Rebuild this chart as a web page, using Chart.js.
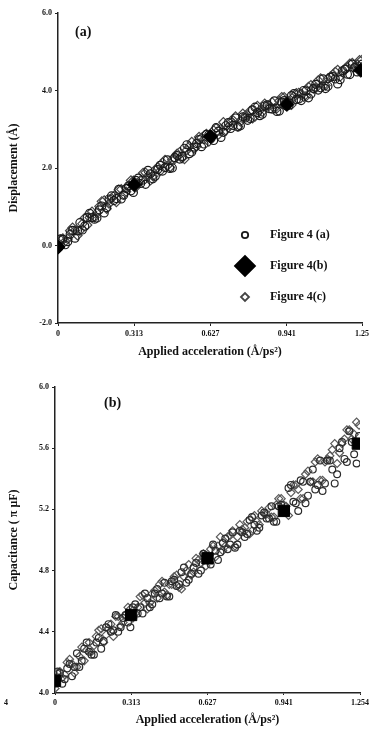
<!DOCTYPE html>
<html>
<head>
<meta charset="utf-8">
<script src="https://cdn.jsdelivr.net/npm/chart.js@4.4.1/dist/chart.umd.min.js"></script>
<style>
  html, body { margin: 0; padding: 0; background: #fff; }
  #wrapA { position: absolute; left: 0; top: 0; width: 370px; height: 365px; }
  #wrapB { position: absolute; left: 0; top: 365px; width: 370px; height: 366px; }
</style>
</head>
<body>
<div id="wrapA"><canvas id="chartA"></canvas></div>
<div id="wrapB"><canvas id="chartB"></canvas></div>
<script>
// sample positions (applied acceleration, Å/ps²)
const accEven = [0.00, 0.02, 0.04, 0.06, 0.08, 0.10, 0.12, 0.14, 0.16, 0.18, 0.20, 0.22, 0.24, 0.26, 0.28, 0.30,
  0.32, 0.34, 0.36, 0.38, 0.40, 0.42, 0.44, 0.46, 0.48, 0.50, 0.52, 0.54, 0.56, 0.58, 0.60, 0.62,
  0.64, 0.66, 0.68, 0.70, 0.72, 0.74, 0.76, 0.78, 0.80, 0.82, 0.84, 0.86, 0.88, 0.90, 0.92, 0.94,
  0.96, 0.98, 1.00, 1.02, 1.04, 1.06, 1.08, 1.10, 1.12, 1.14, 1.16, 1.18, 1.20, 1.22, 1.24];
const accOdd = [0.01, 0.03, 0.05, 0.07, 0.09, 0.11, 0.13, 0.15, 0.17, 0.19, 0.21, 0.23, 0.25, 0.27, 0.29, 0.31,
  0.33, 0.35, 0.37, 0.39, 0.41, 0.43, 0.45, 0.47, 0.49, 0.51, 0.53, 0.55, 0.57, 0.59, 0.61, 0.63,
  0.65, 0.67, 0.69, 0.71, 0.73, 0.75, 0.77, 0.79, 0.81, 0.83, 0.85, 0.87, 0.89, 0.91, 0.93, 0.95,
  0.97, 0.99, 1.01, 1.03, 1.05, 1.07, 1.09, 1.11, 1.13, 1.15, 1.17, 1.19, 1.21, 1.23, 1.25];

// panel (a): displacement, Å
const dispA = [-0.04, 0.16, 0.10, 0.39, 0.38, 0.40, 0.72, 0.72, 0.71, 1.02, 0.98, 1.28, 1.21, 1.20, 1.47, 1.41,
  1.68, 1.60, 1.58, 1.85, 1.79, 2.07, 2.01, 1.99, 2.27, 2.23, 2.51, 2.37, 2.54, 2.73, 2.62, 2.85,
  2.71, 2.95, 2.92, 3.17, 3.10, 3.06, 3.32, 3.23, 3.50, 3.43, 3.39, 3.63, 3.52, 3.46, 3.70, 3.60,
  3.87, 3.77, 3.74, 3.99, 3.91, 4.16, 4.07, 4.05, 4.34, 4.30, 4.28, 4.55, 4.41, 4.59, 4.56];
const dispA2 = [0.17, 0.02, 0.29, 0.19, 0.59, 0.50, 0.83, 0.68, 0.92, 0.84, 1.20, 1.16, 1.45, 1.30, 1.54, 1.37,
  1.74, 1.69, 1.94, 1.72, 1.96, 1.92, 2.21, 2.00, 2.32, 2.30, 2.60, 2.41, 2.63, 2.55, 2.87, 2.77,
  3.04, 2.79, 3.09, 3.02, 3.29, 3.09, 3.29, 3.28, 3.57, 3.35, 3.60, 3.53, 3.73, 3.47, 3.74, 3.62,
  3.92, 3.78, 4.00, 3.81, 4.05, 4.01, 4.30, 4.11, 4.36, 4.17, 4.51, 4.42, 4.68, 4.48, 4.68];
const dispC = [0.15, 0.11, 0.38, 0.39, 0.38, 0.71, 0.72, 0.73, 1.01, 1.16, 1.08, 1.28, 1.44, 1.32, 1.53, 1.67,
  1.59, 1.87, 1.79, 1.79, 2.01, 2.14, 2.06, 2.22, 2.37, 2.25, 2.46, 2.67, 2.56, 2.78, 2.88, 2.82,
  3.03, 3.01, 2.97, 3.21, 3.33, 3.20, 3.35, 3.47, 3.33, 3.49, 3.66, 3.61, 3.54, 3.73, 3.83, 3.70,
  3.84, 3.94, 3.84, 4.09, 4.05, 4.26, 4.12, 4.31, 4.41, 4.53, 4.47, 4.60, 4.71, 4.67, 4.79];
const dispC2 = [-0.10, 0.18, 0.17, 0.46, 0.26, 0.56, 0.53, 0.87, 0.84, 1.14, 0.95, 1.22, 1.12, 1.45, 1.39, 1.68,
  1.51, 1.69, 1.88, 1.68, 1.96, 1.92, 2.21, 2.02, 2.23, 2.41, 2.23, 2.56, 2.50, 2.80, 2.74, 2.68,
  2.97, 2.86, 3.18, 3.05, 3.23, 3.07, 3.40, 3.36, 3.28, 3.60, 3.45, 3.61, 3.70, 3.54, 3.83, 3.72,
  3.63, 3.93, 3.92, 3.85, 4.14, 4.06, 4.31, 4.13, 4.36, 4.48, 4.36, 4.56, 4.69, 4.62, 4.78];
const accB = [0, 0.313, 0.627, 0.941, 1.245];
const dispB = [-0.04, 1.57, 2.81, 3.64, 4.52];

// panel (b): capacitance
const capA = [4.06, 4.13, 4.09, 4.19, 4.17, 4.17, 4.29, 4.27, 4.25, 4.36, 4.34, 4.45, 4.41, 4.40, 4.49, 4.46,
  4.56, 4.52, 4.52, 4.62, 4.58, 4.68, 4.65, 4.63, 4.73, 4.70, 4.79, 4.72, 4.78, 4.85, 4.80, 4.90,
  4.84, 4.93, 4.92, 5.01, 4.97, 4.95, 5.06, 5.02, 5.13, 5.10, 5.08, 5.18, 5.14, 5.12, 5.22, 5.18,
  5.34, 5.25, 5.19, 5.38, 5.29, 5.46, 5.36, 5.32, 5.52, 5.46, 5.43, 5.64, 5.51, 5.64, 5.50];
const capA2 = [4.14, 4.06, 4.16, 4.11, 4.26, 4.21, 4.33, 4.25, 4.33, 4.29, 4.43, 4.40, 4.51, 4.43, 4.51, 4.43,
  4.58, 4.56, 4.65, 4.56, 4.65, 4.62, 4.72, 4.63, 4.74, 4.71, 4.82, 4.74, 4.82, 4.78, 4.91, 4.87,
  4.97, 4.87, 4.98, 4.94, 5.05, 4.97, 5.05, 5.04, 5.15, 5.06, 5.16, 5.14, 5.22, 5.12, 5.23, 5.19,
  5.36, 5.24, 5.39, 5.24, 5.38, 5.33, 5.52, 5.37, 5.52, 5.37, 5.60, 5.53, 5.71, 5.56, 5.68];
const capC = [4.13, 4.10, 4.20, 4.19, 4.17, 4.30, 4.28, 4.27, 4.37, 4.42, 4.38, 4.45, 4.50, 4.44, 4.51, 4.55,
  4.52, 4.63, 4.59, 4.59, 4.67, 4.71, 4.66, 4.71, 4.76, 4.69, 4.76, 4.84, 4.79, 4.87, 4.91, 4.89,
  4.96, 4.96, 4.93, 5.02, 5.06, 5.02, 5.07, 5.12, 5.06, 5.12, 5.19, 5.17, 5.15, 5.23, 5.27, 5.22,
  5.31, 5.36, 5.27, 5.43, 5.38, 5.51, 5.39, 5.51, 5.55, 5.63, 5.57, 5.66, 5.72, 5.69, 5.75];
const capC2 = [4.03, 4.14, 4.12, 4.22, 4.13, 4.24, 4.21, 4.33, 4.31, 4.41, 4.33, 4.42, 4.37, 4.50, 4.46, 4.56,
  4.49, 4.56, 4.64, 4.55, 4.65, 4.62, 4.73, 4.64, 4.71, 4.77, 4.68, 4.80, 4.77, 4.88, 4.85, 4.83,
  4.94, 4.89, 5.02, 4.96, 5.03, 4.96, 5.10, 5.08, 5.04, 5.16, 5.10, 5.17, 5.21, 5.15, 5.27, 5.23,
  5.16, 5.36, 5.33, 5.27, 5.45, 5.38, 5.53, 5.39, 5.53, 5.59, 5.50, 5.63, 5.72, 5.66, 5.77];
const capB = [4.08, 4.51, 4.88, 5.19, 5.63];

const seriesNames = ['Figure 4 (a)', 'Figure 4(b)', 'Figure 4(c)'];

const xTicksA = [0, 0.313, 0.627, 0.941, 1.25];
const xLabelsA = ['0', '0.313', '0.627', '0.941', '1.25'];
const xTicksB = [0, 0.313, 0.627, 0.941, 1.254];
const xLabelsB = ['0', '0.313', '0.627', '0.941', '1.254'];
const yTicksA = [-2, 0, 2, 4, 6];
const yTicksB = [4.0, 4.4, 4.8, 5.2, 5.6, 6.0];

const SERIF = '"Liberation Serif", "DejaVu Serif", serif';

function pts(xs, ys) {
  return xs.map((x, i) => ({ x: x, y: ys[i] }));
}

// panel tag, legend and the stray "4" are painted after the chart
const overlay = {
  id: 'overlay',
  afterDraw(chart, args, o) {
    const ctx = chart.ctx;
    ctx.save();
    ctx.fillStyle = '#111';
    ctx.textBaseline = 'middle';
    ctx.font = 'bold 14px ' + SERIF;
    ctx.fillText(o.panel, o.panelX, o.panelY);
    if (o.extra) {
      ctx.font = 'bold 8px ' + SERIF;
      ctx.fillText(o.extra.text, o.extra.x, o.extra.y);
    }
    if (o.legend) {
      chart.data.datasets.forEach((ds, i) => {
        const y = o.legend.y[i];
        ctx.fillStyle = ds.backgroundColor;
        ctx.strokeStyle = i === 2 ? '#444' : ds.borderColor;
        ctx.lineWidth = 1.8;
        Chart.helpers.drawPoint(ctx, {
          pointStyle: ds.pointStyle, radius: o.legend.radius[i], rotation: 0, borderWidth: 1.8
        }, o.legend.markerX, y);
        ctx.fillStyle = '#111';
        ctx.font = 'bold 12px ' + SERIF;
        ctx.fillText(ds.label, o.legend.textX, y);
      });
    }
    ctx.restore();
  }
};

function makeChart(id, cfg) {
  return new Chart(document.getElementById(id), {
    type: 'scatter',
    data: {
      datasets: [
        { label: seriesNames[0], data: cfg.a, pointStyle: 'circle', pointRadius: cfg.r,
          borderColor: cfg.colA, backgroundColor: 'rgba(0,0,0,0)', borderWidth: 1.2, order: 1 },
        { label: seriesNames[1], data: cfg.b, pointStyle: cfg.bStyle, pointRadius: cfg.bRadius,
          borderColor: '#000', backgroundColor: '#000', borderWidth: 1, order: 0 },
        { label: seriesNames[2], data: cfg.c, pointStyle: 'rectRot', pointRadius: cfg.r + 0.6,
          borderColor: cfg.colC, backgroundColor: 'rgba(0,0,0,0)', borderWidth: 1.2, order: 2 }
      ]
    },
    options: {
      responsive: true,
      maintainAspectRatio: false,
      animation: false,
      events: [],
      layout: { padding: cfg.pad },
      plugins: {
        legend: { display: false },
        tooltip: { enabled: false },
        overlay: cfg.overlay
      },
      scales: {
        x: {
          type: 'linear',
          min: 0,
          max: cfg.xMax,
          afterBuildTicks: s => { s.ticks = cfg.xTicks.map(v => ({ value: v })); },
          afterFit: s => { s.height = cfg.xHeight; s.paddingLeft = 0; s.paddingRight = 0; },
          border: { color: '#222', width: 1.5 },
          grid: { drawOnChartArea: false, color: '#222', tickLength: cfg.xTickLen, lineWidth: 1 },
          ticks: {
            maxRotation: 0,
            autoSkip: false,
            padding: 3,
            color: '#111',
            font: { family: SERIF, size: 8, weight: 'bold' },
            callback: (v, i) => cfg.xLabels[i]
          },
          title: {
            display: true,
            text: 'Applied acceleration (Å/ps²)',
            color: '#111',
            font: { family: SERIF, size: 12, weight: 'bold' },
            padding: { top: 0, bottom: cfg.xTitlePad }
          }
        },
        y: {
          type: 'linear',
          min: cfg.yMin,
          max: cfg.yMax,
          afterBuildTicks: s => { s.ticks = cfg.yTicks.map(v => ({ value: v })); },
          afterFit: s => { s.width = cfg.yWidth; s.paddingTop = 0; s.paddingBottom = 0; },
          border: { color: '#222', width: 1.5 },
          grid: { drawOnChartArea: false, color: '#222', tickLength: 3, lineWidth: 1 },
          ticks: {
            padding: 3,
            color: '#111',
            font: { family: SERIF, size: 8, weight: 'bold' },
            callback: v => v.toFixed(1)
          },
          title: {
            display: true,
            text: cfg.yTitle,
            color: '#111',
            font: { family: SERIF, size: 12, weight: 'bold' },
            padding: { top: 7, bottom: 0 }
          }
        }
      }
    },
    plugins: [overlay]
  });
}

makeChart('chartA', {
  a: pts(accEven, dispA).concat(pts(accOdd, dispA2)),
  b: pts(accB, dispB),
  c: pts(accOdd, dispC).concat(pts(accEven, dispC2)),
  r: 4, colA: '#1a1a1a', colC: '#454545',
  bStyle: 'rectRot', bRadius: 7,
  xMax: 1.25, xTicks: xTicksA, xLabels: xLabelsA,
  yMin: -2, yMax: 6, yTicks: yTicksA,
  yTitle: 'Displacement (Å)',
  yWidth: 58, xHeight: 42, xTickLen: 3, xTitlePad: 6,
  pad: { left: 0, right: 6, top: 13, bottom: 0 },
  overlay: {
    panel: '(a)', panelX: 75, panelY: 32,
    legend: { markerX: 245, textX: 270, y: [235, 266, 297], radius: [3.2, 10, 4] }
  }
});

makeChart('chartB', {
  a: pts(accEven, capA).concat(pts(accOdd, capA2)),
  b: pts(accB, capB),
  c: pts(accOdd, capC).concat(pts(accEven, capC2)),
  r: 3.4, colA: '#2b2b2b', colC: '#5a5a5a',
  bStyle: 'rect', bRadius: 8,
  xMax: 1.254, xTicks: xTicksB, xLabels: xLabelsB,
  yMin: 4.0, yMax: 6.0, yTicks: yTicksB,
  yTitle: 'Capacitance ( \u03C0 \u03BCF)',
  yWidth: 55, xHeight: 38, xTickLen: 2, xTitlePad: 4,
  pad: { left: 0, right: 10, top: 22, bottom: 0 },
  overlay: {
    panel: '(b)', panelX: 104, panelY: 38,
    extra: { text: '4', x: 4, y: 338 }
  }
});
</script>
</body>
</html>
